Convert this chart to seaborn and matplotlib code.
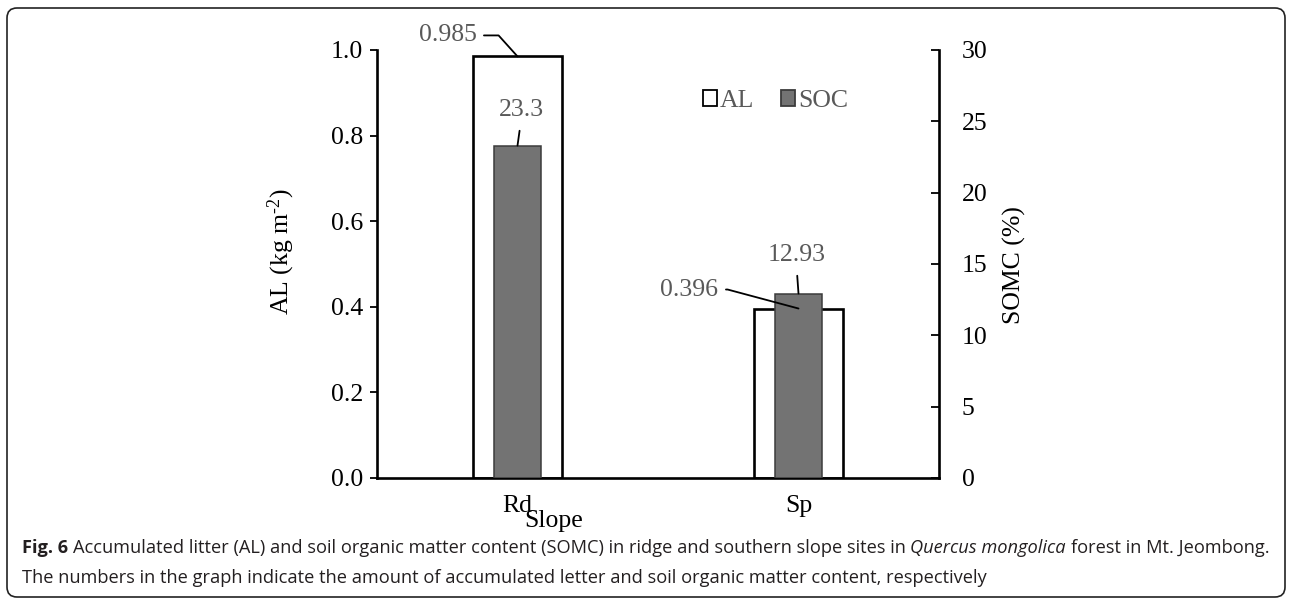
import numpy as np
import pandas as pd
import matplotlib
matplotlib.use('Agg')
import matplotlib.pyplot as plt
import seaborn as sns
from matplotlib.patches import Patch, FancyBboxPatch
from matplotlib.transforms import IdentityTransform
from matplotlib import font_manager

# data
sites = ['Rd', 'Sp']
al = [0.985, 0.396]        # accumulated litter, kg m-2
soc = [23.3, 12.93]        # soil organic matter content, %
al_labels = ['0.985', '0.396']
soc_labels = ['23.3', '12.93']

caption1 = [('Fig. 6', 'bold', 'normal'),
            ('Accumulated litter (AL) and soil organic matter content (SOMC) in ridge and southern slope sites in', 'normal', 'normal'),
            ('Quercus mongolica', 'normal', 'italic'),
            ('forest in Mt. Jeombong.', 'normal', 'normal')]
caption2 = [('The numbers in the graph indicate the amount of accumulated letter and soil organic matter content, respectively', 'normal', 'normal')]

sns.set_theme(style='white')
plt.rcParams['font.family'] = ['Liberation Serif', 'DejaVu Serif']
plt.rcParams['mathtext.fontset'] = 'custom'
plt.rcParams['mathtext.rm'] = 'Liberation Serif'
plt.rcParams['mathtext.default'] = 'rm'

names = {f.name for f in font_manager.fontManager.ttflist}
cap_font = 'Liberation Sans Narrow' if 'Liberation Sans Narrow' in names else 'Open Sans'

W, H = 1292, 605
fs = 18.5
gray_txt = '#595959'
bar_gray = '#737373'

fig = plt.figure(figsize=(W / 100, H / 100), dpi=100)
ax = fig.add_axes([377 / W, 1 - 478 / H, (939 - 377) / W, (478 - 50) / H])

df = pd.DataFrame({'site': sites, 'al': al, 'soc': soc})
sns.barplot(data=df, x='site', y='al', ax=ax, width=0.32, color='white',
            edgecolor='black', linewidth=1.9, saturation=1, errorbar=None)
ax2 = ax.twinx()
sns.barplot(data=df, x='site', y='soc', ax=ax2, width=0.167, color=bar_gray,
            edgecolor='#3c3c3c', linewidth=1.1, saturation=1, errorbar=None)

ax.set_ylim(0, 1)
ax2.set_ylim(0, 30)
ax.set_yticks(np.arange(0, 1.01, 0.2))
ax.yaxis.set_major_formatter('{x:.1f}')
ax2.set_yticks(np.arange(0, 31, 5))

for s in ['top', 'right']:
    ax.spines[s].set_visible(False)
for s in ['top', 'left', 'bottom']:
    ax2.spines[s].set_visible(False)
for a, s in [(ax, 'left'), (ax, 'bottom'), (ax2, 'right')]:
    a.spines[s].set_color('black')
    a.spines[s].set_linewidth(1.9)

ax.tick_params(axis='y', direction='out', left=True, length=5, width=1.3,
               color='black', pad=5, labelsize=fs, labelcolor='black')
ax.tick_params(axis='x', length=0, pad=12, labelsize=fs, labelcolor='black')
ax2.tick_params(axis='y', direction='in', right=True, length=5.5, width=1.3,
                color='black', pad=16.5, labelsize=fs, labelcolor='black')

ax.set_xlabel('Slope', fontsize=fs, color='black')
ax.xaxis.set_label_coords(0.315, -0.075)
ax.set_ylabel(r'AL (kg m$^{\text{-}2}$)', fontsize=fs, color='black')
ax.yaxis.set_label_coords(-0.142, 0.53)
ax2.set_ylabel('SOMC (%)', fontsize=fs, color='black')
ax2.yaxis.set_label_coords(1.114, 0.498)

# value labels with leader lines
line_kw = dict(arrowstyle='-', color='black', lw=1.3, shrinkB=0)
ax2.annotate(al_labels[0], xy=(0, al[0]), xycoords=ax.transData,
             xytext=(-41, 21), textcoords='offset pixels', ha='right', va='center',
             color=gray_txt, fontsize=fs,
             arrowprops=dict(**line_kw, shrinkA=3, relpos=(1, 0.5),
                             connectionstyle='angle,angleA=0,angleB=-48,rad=0'))
ax2.annotate(al_labels[1], xy=(1, al[1]), xycoords=ax.transData,
             xytext=(-80, 19), textcoords='offset pixels', ha='right', va='center',
             color=gray_txt, fontsize=fs,
             arrowprops=dict(**line_kw, shrinkA=3, relpos=(1, 0.5),
                             connectionstyle='angle,angleA=0,angleB=-15,rad=0'))
ax2.annotate(soc_labels[0], xy=(0, soc[0]), xytext=(3.5, 36),
             textcoords='offset pixels', ha='center', va='center',
             color=gray_txt, fontsize=fs,
             arrowprops=dict(**line_kw, shrinkA=5, relpos=(0.5, 0)))
ax2.annotate(soc_labels[1], xy=(1, soc[1]), xytext=(-2, 39),
             textcoords='offset pixels', ha='center', va='center',
             color=gray_txt, fontsize=fs,
             arrowprops=dict(**line_kw, shrinkA=5, relpos=(0.5, 0)))

handles = [Patch(facecolor='white', edgecolor='black', lw=1.3, label='AL'),
           Patch(facecolor=bar_gray, edgecolor='#3c3c3c', lw=1.3, label='SOC')]
ax2.legend(handles=handles, loc='center left',
           bbox_to_anchor=((703 - 377) / 562, (478 - 101) / 428), ncol=2,
           frameon=False, handlelength=0.55, handleheight=0.55, handletextpad=0.1,
           columnspacing=1.05, borderpad=0, borderaxespad=0, fontsize=fs,
           labelcolor=gray_txt)

# rounded frame around the whole figure
frame = FancyBboxPatch((7, H - 597), W - 14, 589, boxstyle='round,pad=0,rounding_size=10',
                       transform=IdentityTransform(), fill=False, ec='#222222', lw=1.2)
fig.add_artist(frame)

# caption
r = fig.canvas.get_renderer()
cap_col = '#231f20'


def text_w(s, size, weight='normal', style='normal'):
    t = fig.text(0, 0, s, fontsize=size, family=cap_font, weight=weight, style=style)
    w = t.get_window_extent(r).width
    t.remove()
    return w


def line_width(pieces, size):
    sp = text_w('x x', size) - text_w('xx', size)
    return sum(text_w(s, size, wt, st) for s, wt, st in pieces) + sp * (len(pieces) - 1)


cap_size = 12 * 1243 / line_width(caption1, 12)


def draw_line(pieces, x, y, size):
    sp = text_w('x x', size) - text_w('xx', size)
    for s, wt, st in pieces:
        t = fig.text(x / W, 1 - y / H, s, fontsize=size, family=cap_font, weight=wt,
                     style=st, va='baseline', color=cap_col)
        x += t.get_window_extent(r).width + sp


draw_line(caption1, 22, 553, cap_size)
draw_line(caption2, 22, 583, cap_size)

fig.savefig('out.png', dpi=100)
